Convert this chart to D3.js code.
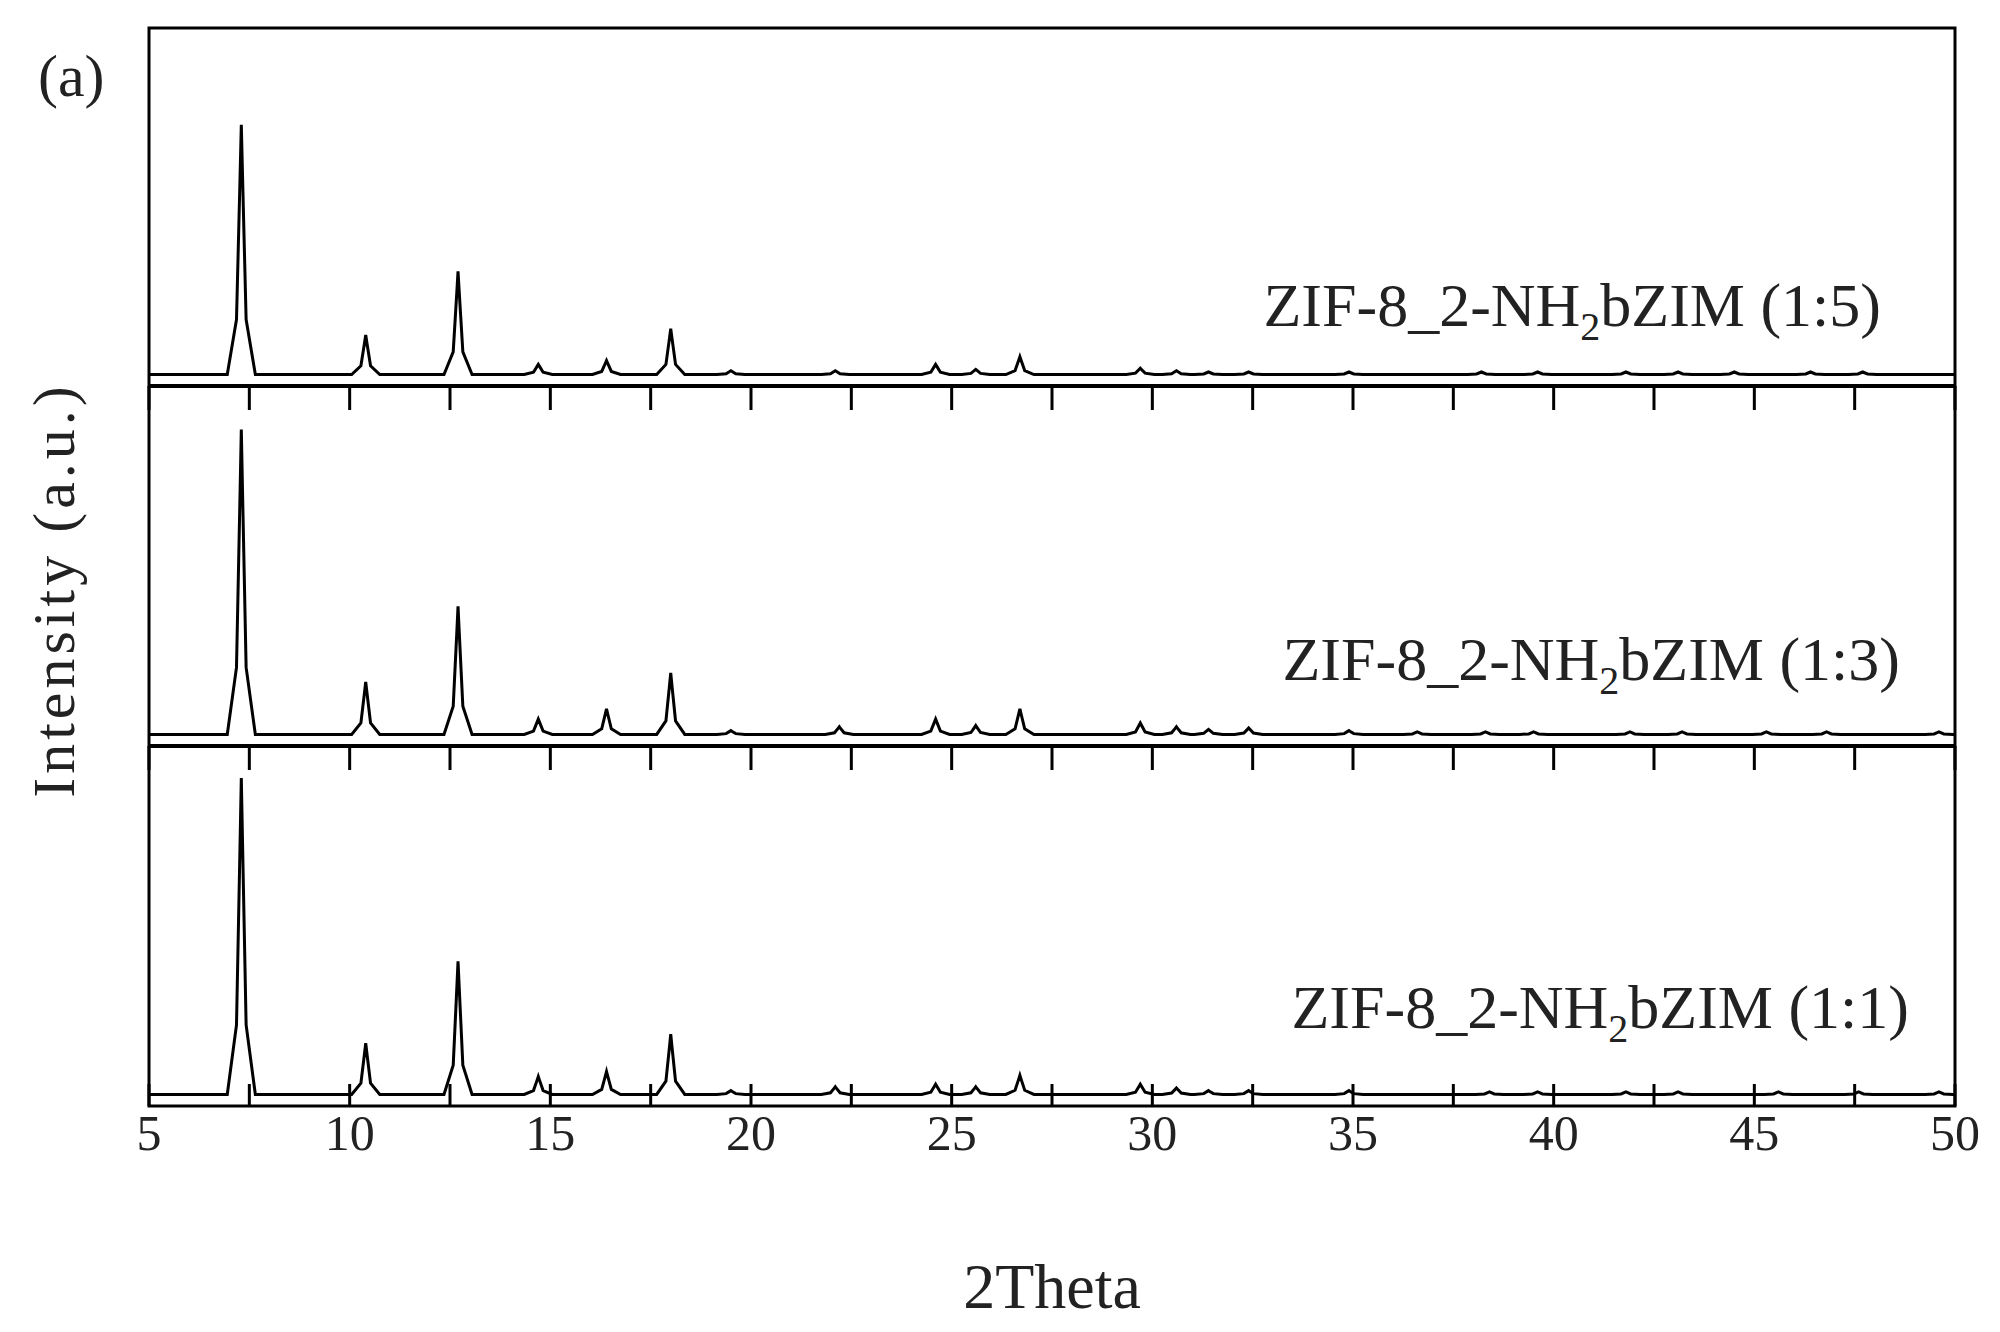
<!DOCTYPE html>
<html><head><meta charset="utf-8">
<script src="https://cdn.jsdelivr.net/npm/d3@7"></script>
<style>body{margin:0;background:#fff}svg text{font-family:"Liberation Serif","DejaVu Serif",serif;fill:#222}</style>
</head><body><svg id="chart" width="2000" height="1332"></svg>
<script>
// peaks: [2theta, height] (arbitrary units)
const peaks15 = [[7.3,196],[10.4,31],[12.7,81],[14.7,8],[16.4,11],[18.0,36],[19.5,3],[22.1,3],[24.6,8],[25.6,4],[26.7,14],[29.7,5],[30.6,3],[31.4,2],[32.4,2],[34.9,2],[38.2,2],[39.6,2],[41.8,2],[43.1,2],[44.5,2],[46.4,2],[47.7,2]];
const peaks13 = [[7.3,238],[10.4,41],[12.7,100],[14.7,12],[16.4,20],[18.0,48],[19.5,3],[22.2,6],[24.6,12],[25.6,7],[26.7,20],[29.7,9],[30.6,6],[31.4,4],[32.4,5],[34.9,3],[36.6,2],[38.3,2],[39.5,2],[41.9,2],[43.2,2],[45.3,2],[46.8,2],[49.6,2]];
const peaks11 = [[7.3,247],[10.4,40],[12.7,104],[14.7,14],[16.4,18],[18.0,47],[19.5,3],[22.1,6],[24.6,8],[25.6,6],[26.7,15],[29.7,8],[30.6,5],[31.4,3],[32.4,3],[34.9,3],[38.4,2],[39.6,2],[41.8,2],[43.1,2],[45.6,2],[47.6,2],[49.6,2]];
const panelNames = ["ZIF-8_2-NH|2|bZIM (1:5)","ZIF-8_2-NH|2|bZIM (1:3)","ZIF-8_2-NH|2|bZIM (1:1)"];
const xTicks = [5,10,15,20,25,30,35,40,45,50];

const svg = d3.select("#chart");
const L = 149, R = 1955, T = 28, B = 1106;
const x = d3.scaleLinear().domain([5,50]).range([L,R]);
const bounds = [[T,386],[386,746],[746,B]];
const series = [peaks15, peaks13, peaks11];
const labelPos = [[1881,326],[1900,680],[1909,1028]];

function profile(pk){
  const pts = [[5,0]];
  pk.forEach(([p,h]) => {
    pts.push([p-0.35,0],[p-0.12,h*0.22],[p-0.03,h*0.8],[p,h],[p+0.03,h*0.8],[p+0.12,h*0.22],[p+0.35,0]);
  });
  pts.push([50,0]);
  return pts;
}

series.forEach((pk,i) => {
  const [top,bot] = bounds[i];
  const y = d3.scaleLinear().domain([-9,272]).range([bot,top]);
  svg.append("path").datum(profile(pk))
    .attr("d", d3.line().x(d=>x(d[0])).y(d=>y(d[1])))
    .attr("fill","none").attr("stroke","#000").attr("stroke-width",3).attr("stroke-linejoin","miter");
  const tks = d3.range(5,50.01,2.5);
  if (i==2) svg.append("g").selectAll("line").data(tks).join("line")
    .attr("x1",d=>x(d)).attr("x2",d=>x(d)).attr("y1",bot).attr("y2",bot-22)
    .attr("stroke","#000").attr("stroke-width",3);
  if (i>0) svg.append("g").selectAll("line").data(tks).join("line")
    .attr("x1",d=>x(d)).attr("x2",d=>x(d)).attr("y1",top).attr("y2",top+24)
    .attr("stroke","#000").attr("stroke-width",3);
  const parts = panelNames[i].split("|");
  const t = svg.append("text").attr("x",labelPos[i][0]).attr("y",labelPos[i][1])
    .attr("text-anchor","end").attr("font-size",62);
  t.append("tspan").text(parts[0]);
  t.append("tspan").attr("font-size",40).attr("dy",14).text(parts[1]);
  t.append("tspan").attr("dy",-14).text(parts[2]);
  if (i<2) svg.append("line").attr("x1",L).attr("x2",R).attr("y1",bot).attr("y2",bot)
    .attr("stroke","#000").attr("stroke-width",4);
});

svg.append("rect").attr("x",L).attr("y",T).attr("width",R-L).attr("height",B-T)
  .attr("fill","none").attr("stroke","#000").attr("stroke-width",3);

svg.append("g").selectAll("text").data(xTicks).join("text")
  .attr("x",d=>x(d)).attr("y",1150).attr("text-anchor","middle").attr("font-size",50).text(d=>d);

svg.append("text").attr("x",(L+R)/2).attr("y",1308).attr("text-anchor","middle").attr("font-size",64).text("2Theta");
svg.append("text").attr("transform","translate(74,590) rotate(-90)").attr("text-anchor","middle")
  .attr("font-size",60).attr("letter-spacing",4).text("Intensity (a.u.)");
svg.append("text").attr("x",38).attr("y",96).attr("font-size",60).text("(a)");
</script></body></html>
